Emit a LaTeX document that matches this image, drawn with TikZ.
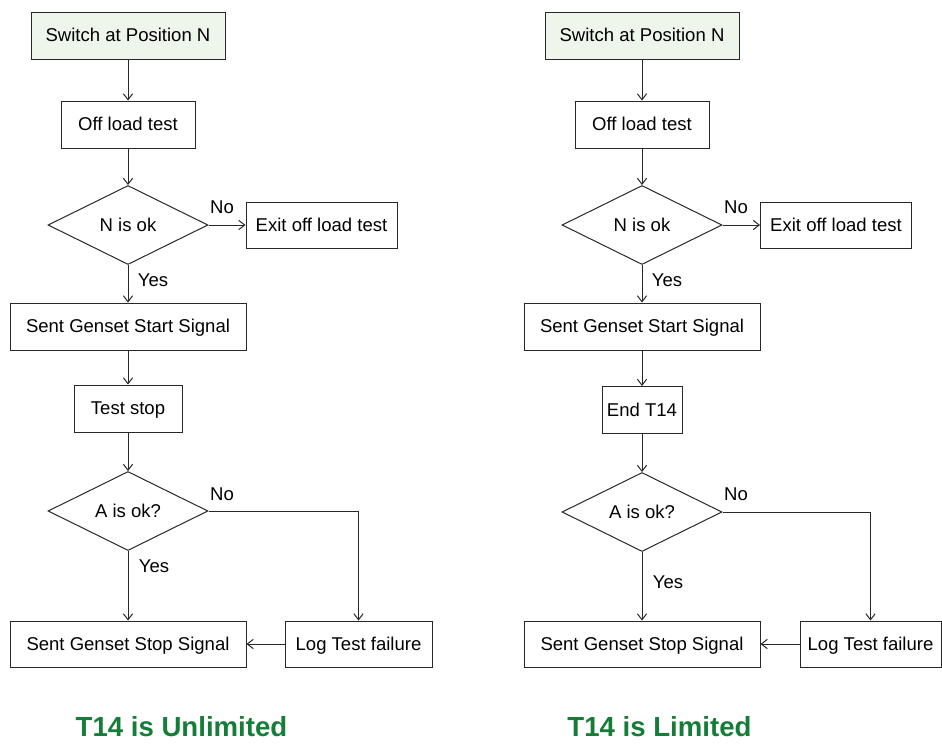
\documentclass[tikz,border=0pt]{standalone}
\usepackage{fontspec}
\setmainfont{Liberation Sans}
\usetikzlibrary{shapes.geometric,arrows.meta}

\definecolor{startgreen}{RGB}{238,245,234}
\definecolor{titlegreen}{RGB}{20,125,55}
\definecolor{linegray}{RGB}{40,40,40}

\tikzset{every picture/.style={line width=0.75pt}}
\tikzset{
  flowbox/.style={draw=linegray, rectangle, inner sep=0pt, minimum height=35.25pt,
    text height=10pt, text depth=1pt, font=\fontsize{13.9}{16}\selectfont},
  startbox/.style={flowbox, fill=startgreen},
  decision/.style={draw=linegray, diamond, aspect=2, inner sep=0pt,
    minimum width=120pt, minimum height=59.25pt, font=\fontsize{13.9}{16}\selectfont},
  flowline/.style={draw=linegray, -{Straight Barb[length=4.5pt,width=7pt]}},
  branch/.style={inner sep=0pt, font=\fontsize{13.9}{16}\selectfont},
  caption/.style={inner sep=0pt, text=titlegreen, font=\fontsize{20.7}{24}\selectfont\bfseries}
}

\begin{document}
\begin{tikzpicture}[x=0.75pt,y=0.75pt,yscale=-1,xscale=1]
\useasboundingbox (0,0) rectangle (942,743);

%Left chart: T14 is Unlimited
\node [startbox, minimum width=145.5pt] (swL) at (128,35.5) {Switch at Position N};
\node [flowbox, minimum width=100.5pt] (offL) at (128,124.5) {Off load test};
\node [decision] (dnL) at (128,225) {N is ok};
\node [flowbox, minimum width=113.25pt, minimum height=34.5pt] (exitL) at (321.5,225) {Exit off load test};
\node [flowbox, minimum width=177pt] (startL) at (128,326.5) {Sent Genset Start Signal};
\node [flowbox, minimum width=81pt] (tstopL) at (128,408.5) {Test stop};
\node [decision] (daL) at (128,511) {A is ok?};
\node [flowbox, minimum width=177pt, minimum height=34.5pt] (gstopL) at (128,644) {Sent Genset Stop Signal};
\node [flowbox, minimum width=110.25pt, minimum height=34.5pt] (logL) at (358.5,644) {Log Test failure};

\draw [flowline] (swL) -- (offL);
\draw [flowline] (offL) -- (dnL);
\draw [flowline] (dnL) -- (exitL);
\draw [flowline] (dnL) -- (startL);
\draw [flowline] (startL) -- (tstopL);
\draw [flowline] (tstopL) -- (daL);
\draw [flowline] (daL) -- (gstopL);
\draw [flowline] (daL.east) -| (logL.north);
\draw [flowline] (logL) -- (gstopL);

% Text Node
\node [branch] (noNL) at (222,207) {No};
\node [branch] (yesNL) at (153,280) {Yes};
\node [branch] (noAL) at (222,494) {No};
\node [branch] (yesAL) at (154,566) {Yes};
\node [caption] (capL) at (181.5,727) {T14 is Unlimited};

%Right chart: T14 is Limited
\node [startbox, minimum width=145.5pt] (swR) at (642,35.5) {Switch at Position N};
\node [flowbox, minimum width=100.5pt] (offR) at (642,124.5) {Off load test};
\node [decision] (dnR) at (642,225) {N is ok};
\node [flowbox, minimum width=113.25pt, minimum height=34.5pt] (exitR) at (836,225) {Exit off load test};
\node [flowbox, minimum width=177pt] (startR) at (642,326.5) {Sent Genset Start Signal};
\node [flowbox, minimum width=60pt] (endR) at (642,410) {End T14};
\node [decision] (daR) at (642,512) {A is ok?};
\node [flowbox, minimum width=177pt, minimum height=34.5pt] (gstopR) at (642,644) {Sent Genset Stop Signal};
\node [flowbox, minimum width=105.75pt, minimum height=34.5pt] (logR) at (870.5,644) {Log Test failure};

\draw [flowline] (swR) -- (offR);
\draw [flowline] (offR) -- (dnR);
\draw [flowline] (dnR) -- (exitR);
\draw [flowline] (dnR) -- (startR);
\draw [flowline] (startR) -- (endR);
\draw [flowline] (endR) -- (daR);
\draw [flowline] (daR) -- (gstopR);
\draw [flowline] (daR.east) -| (logR.north);
\draw [flowline] (logR) -- (gstopR);

% Text Node
\node [branch] (noNR) at (736,207) {No};
\node [branch] (yesNR) at (667,280) {Yes};
\node [branch] (noAR) at (736,494) {No};
\node [branch] (yesAR) at (668,582) {Yes};
\node [caption] (capR) at (659.5,727) {T14 is Limited};

\end{tikzpicture}
\end{document}
